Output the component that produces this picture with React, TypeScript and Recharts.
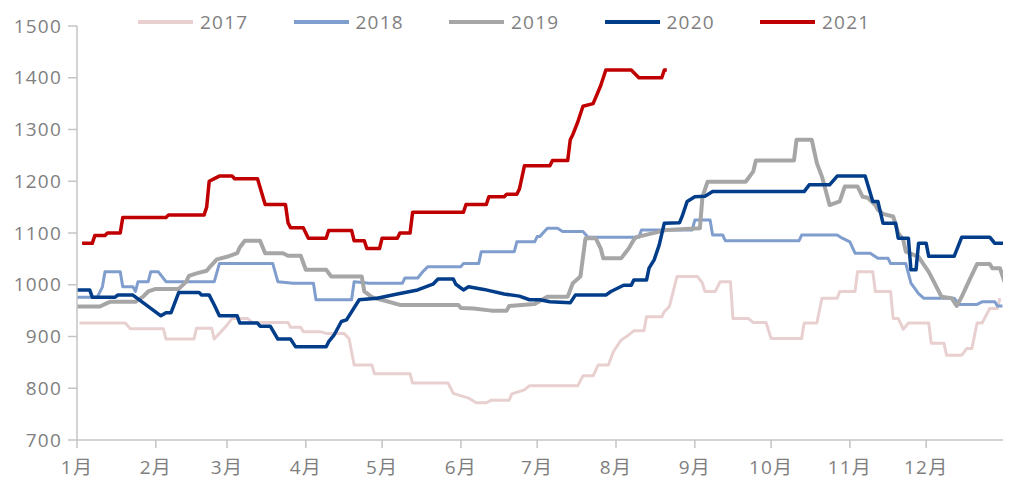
import { LineChart, Line, XAxis, YAxis, Legend } from "recharts";

// month start days (day of year) and their labels
const MONTH_STARTS = [0, 31, 59, 90, 120, 151, 181, 212, 243, 273, 304, 334];
const MONTH_LABELS = ["1月", "2月", "3月", "4月", "5月", "6月", "7月", "8月", "9月", "10月", "11月", "12月"];
const Y_TICKS = [700, 800, 900, 1000, 1100, 1200, 1300, 1400, 1500];

// [day of year, price]
const Y2017 = [
  [1, 926], [19, 926], [21, 915], [34, 915], [35, 895], [46, 895], [47, 916], [53, 916], [54, 895],
  [56, 906], [59, 922], [61, 935], [67, 935], [69, 927], [83, 927], [84, 918], [88, 918], [89, 909],
  [96, 909], [98, 906], [105, 906], [107, 896], [109, 845], [116, 845], [117, 828], [131, 828],
  [132, 810], [146, 810], [148, 790], [154, 781], [157, 772], [161, 772], [163, 777], [170, 777],
  [171, 789], [176, 797], [178, 805], [197, 805], [199, 824], [203, 824], [205, 845], [209, 845],
  [211, 871], [214, 893], [217, 903], [219, 911], [223, 911], [224, 938], [230, 938], [231, 948],
  [233, 958], [236, 1016], [244, 1016], [246, 1003], [247, 987], [251, 987], [253, 1006], [257, 1006],
  [258, 935], [264, 935], [266, 927], [271, 927], [273, 896], [285, 896], [286, 926], [291, 926],
  [293, 974], [299, 974], [300, 987], [306, 987], [307, 1025], [313, 1025], [314, 987], [320, 987],
  [321, 935], [323, 935], [325, 914], [327, 926], [335, 926], [336, 887], [341, 887], [342, 864],
  [348, 864], [350, 877], [352, 877], [354, 926], [356, 926], [359, 954], [362, 954], [363, 974],
];

const Y2018 = [
  [0, 976], [8, 976], [10, 996], [11, 1025], [17, 1025], [18, 996], [22, 996], [23, 987], [24, 1006],
  [28, 1006], [29, 1025], [32, 1025], [35, 1006], [54, 1006], [56, 1041], [77, 1041], [79, 1006],
  [85, 1003], [93, 1003], [94, 971], [108, 971], [109, 1006], [115, 1003], [128, 1003], [129, 1013],
  [134, 1013], [136, 1025], [138, 1035], [151, 1035], [152, 1041], [158, 1041], [159, 1064],
  [172, 1064], [173, 1083], [180, 1083], [181, 1093], [182, 1093], [185, 1109], [189, 1109],
  [191, 1103], [199, 1103], [201, 1092], [221, 1092], [222, 1106], [229, 1106], [230, 1106],
  [242, 1106], [243, 1125], [249, 1125], [250, 1096], [254, 1096], [255, 1085], [284, 1085],
  [285, 1096], [299, 1096], [301, 1090], [304, 1083], [306, 1061], [312, 1061], [315, 1051],
  [319, 1051], [320, 1041], [326, 1041], [328, 1003], [331, 983], [333, 974], [345, 974], [347, 962],
  [354, 962], [356, 967], [361, 967], [362, 959], [364, 959],
];

const Y2019 = [
  [0, 958], [9, 958], [12, 965], [13, 967], [23, 967], [26, 977], [28, 987], [31, 992], [40, 992],
  [43, 1006], [44, 1017], [47, 1022], [51, 1027], [52, 1033], [55, 1049], [59, 1054], [63, 1061],
  [64, 1072], [66, 1085], [72, 1085], [74, 1061], [81, 1061], [83, 1056], [88, 1056], [90, 1029],
  [98, 1029], [100, 1016], [112, 1016], [113, 987], [116, 976], [119, 972], [127, 961], [150, 961],
  [151, 955], [156, 954], [163, 950], [169, 950], [170, 959], [180, 963], [185, 977], [193, 977],
  [195, 1003], [198, 1016], [200, 1090], [204, 1090], [206, 1070], [207, 1051], [214, 1051],
  [217, 1070], [219, 1087], [220, 1092], [232, 1106], [245, 1109], [246, 1170], [248, 1199],
  [263, 1199], [266, 1219], [267, 1240], [282, 1240], [283, 1280], [289, 1280], [291, 1235],
  [293, 1209], [296, 1154], [300, 1161], [302, 1190], [307, 1190], [309, 1170], [311, 1168],
  [314, 1154], [315, 1145], [317, 1137], [321, 1132], [323, 1100], [325, 1087], [326, 1064],
  [331, 1054], [335, 1025], [337, 1006], [340, 977], [344, 974], [346, 959], [348, 977], [351, 1009],
  [354, 1040], [359, 1040], [360, 1032], [363, 1032], [365, 1003],
];

const Y2020 = [
  [0, 990], [5, 990], [6, 976], [15, 976], [16, 980], [22, 980], [33, 940], [35, 946], [37, 946],
  [40, 985], [48, 985], [49, 980], [52, 980], [54, 961], [56, 940], [63, 940], [64, 926], [71, 926],
  [72, 920], [76, 920], [79, 895], [84, 895], [86, 880], [98, 880], [99, 890], [101, 902], [104, 929],
  [106, 932], [111, 971], [118, 974], [126, 982], [134, 990], [140, 1001], [142, 1011], [148, 1011],
  [149, 1001], [152, 990], [154, 996], [160, 991], [168, 982], [174, 978], [178, 971], [182, 971],
  [186, 967], [194, 965], [196, 980], [208, 980], [210, 987], [215, 999], [218, 999], [219, 1009],
  [224, 1009], [225, 1032], [227, 1048], [229, 1077], [231, 1119], [237, 1120], [238, 1132],
  [240, 1161], [243, 1170], [247, 1171], [250, 1180], [286, 1180], [288, 1193], [296, 1193],
  [299, 1210], [310, 1210], [313, 1161], [315, 1161], [317, 1119], [322, 1119], [323, 1090],
  [327, 1090], [328, 1029], [330, 1029], [331, 1080], [334, 1080], [335, 1055], [345, 1055],
  [348, 1092], [359, 1092], [361, 1080], [365, 1080],
];

const Y2021 = [
  [2, 1080], [6, 1080], [7, 1095], [11, 1095], [12, 1100], [17, 1100], [18, 1130], [35, 1130],
  [36, 1135], [50, 1135], [51, 1150], [52, 1200], [54, 1205], [56, 1210], [61, 1210], [62, 1205],
  [71, 1205], [74, 1155], [82, 1155], [83, 1120], [84, 1110], [89, 1110], [91, 1090], [98, 1090],
  [99, 1105], [108, 1105], [109, 1085], [113, 1085], [114, 1070], [119, 1070], [120, 1090],
  [126, 1090], [127, 1100], [131, 1100], [132, 1140], [152, 1140], [153, 1155], [161, 1155],
  [162, 1170], [168, 1170], [169, 1175], [173, 1175], [174, 1185], [176, 1230], [186, 1230],
  [187, 1240], [193, 1240], [194, 1280], [195, 1290], [197, 1315], [199, 1345], [203, 1350],
  [206, 1385], [208, 1415], [218, 1415], [221, 1400], [230, 1400], [231, 1415], [232, 1415],
];

const YEARS = ["2017", "2018", "2019", "2020", "2021"];
const SERIES = [Y2017, Y2018, Y2019, Y2020, Y2021];

const COLORS = ["#e8d0d1", "#7f9dcd", "#a6a6a6", "#023d8a", "#c00000"];
const WIDTHS = [3, 3, 4, 3.5, 3.5];

const FONT = "'Open Sans', 'Noto Sans CJK SC', sans-serif";
const TEXT = "#7f7f7f";
const AXIS = "#c4c4c4";

const toPoints = (arr: number[][]) => arr.map(([d, v]) => ({ d, v }));

function YearLegend({ payload }: any) {
  return (
    <div style={{ position: "relative", height: 0 }}>
      <div style={{ position: "absolute", left: 130, top: 1, display: "flex" }}>
        {(payload || []).map((p: any) => (
          <div key={p.value} style={{ width: 155.5, display: "flex", alignItems: "center" }}>
            <svg width={55} height={6}>
              <line x1={0} y1={3} x2={55} y2={3} stroke={p.color} strokeWidth={4} />
            </svg>
            <span
              style={{
                marginLeft: 7,
                fontFamily: FONT,
                fontSize: 19,
                letterSpacing: 1.2,
                color: TEXT,
                lineHeight: "26px",
              }}
            >
              {p.value}
            </span>
          </div>
        ))}
      </div>
    </div>
  );
}

export default function App() {
  return (
    <LineChart width={1003} height={475} margin={{ top: 18, right: 6, bottom: 0, left: 0 }}>
      <XAxis
        type="number"
        dataKey="d"
        domain={[0, 365]}
        ticks={MONTH_STARTS}
        tickFormatter={(d: number) => MONTH_LABELS[MONTH_STARTS.indexOf(d)]}
        allowDataOverflow
        height={43}
        stroke={AXIS}
        strokeWidth={1.5}
        tickSize={8}
        tickMargin={13}
        tick={{ fill: TEXT, fontSize: 19, fontFamily: FONT, letterSpacing: 1.2 }}
        interval={0}
      />
      <YAxis
        type="number"
        domain={[700, 1500]}
        ticks={Y_TICKS}
        width={69}
        stroke={AXIS}
        strokeWidth={1.5}
        tickSize={9}
        tickMargin={6}
        tick={{ fill: TEXT, fontSize: 19, fontFamily: FONT, letterSpacing: 1.2 }}
        interval={0}
      />
      <Legend verticalAlign="top" content={<YearLegend />} wrapperStyle={{ top: 0, left: 0, width: 1003 }} />
      {SERIES.map((s, i) => (
        <Line
          key={YEARS[i]}
          data={toPoints(s)}
          dataKey="v"
          name={YEARS[i]}
          type="linear"
          stroke={COLORS[i]}
          strokeWidth={WIDTHS[i]}
          strokeLinejoin="round"
          dot={false}
          activeDot={false}
          isAnimationActive={false}
        />
      ))}
    </LineChart>
  );
}
